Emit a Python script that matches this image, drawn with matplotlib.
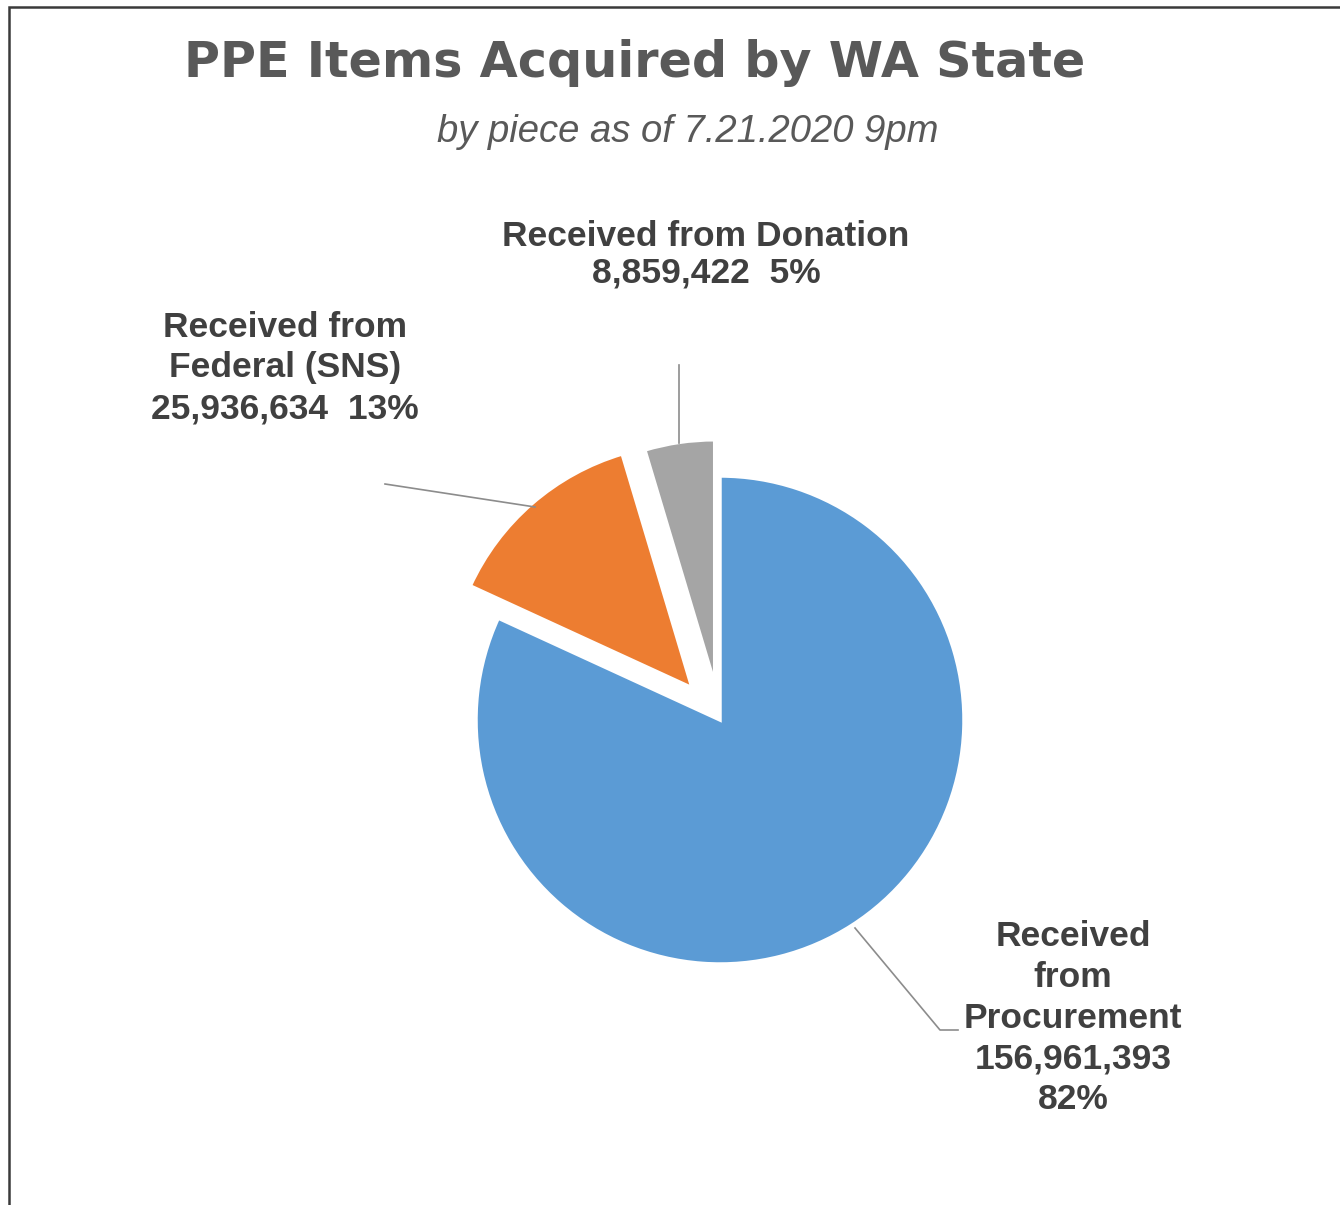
import matplotlib.pyplot as plt
from matplotlib.patches import Rectangle

# data
labels = ['Received\nfrom\nProcurement', 'Received from\nFederal (SNS)', 'Received from Donation']
values = [156961393, 25936634, 8859422]
pct_labels = ['82%', '13%', '5%']   # as printed on the chart
colors = ['#5B9BD5', '#ED7D31', '#A5A5A5']
explode_frac = [0.0, 0.175, 0.15]

W, H = 1340, 1205
fig = plt.figure(figsize=(W / 100, H / 100), dpi=100)
ax = fig.add_axes([0, 0, 1, 1])

R = 244
cx, cy = 720, H - 720
wedges, _ = ax.pie(values, colors=colors, startangle=90, counterclock=False,
                   explode=[f * R for f in explode_frac],
                   center=(cx, cy), radius=R,
                   wedgeprops=dict(edgecolor='white', linewidth=2.5))
ax.set_xlim(0, W)
ax.set_ylim(0, H)
ax.set_aspect('equal')
ax.axis('off')

txt = dict(family='Liberation Sans', weight='bold', color='#404040',
           fontsize=25.5, ha='center', va='center')

# title + subtitle
ax.text(635, H - 63, 'PPE Items Acquired by WA State', family='DejaVu Sans',
        weight='bold', fontsize=35.5, color='#595959', ha='center', va='center')
ax.text(688, H - 132, 'by piece as of 7.21.2020 9pm', family='Liberation Sans',
        style='italic', fontsize=27.5, color='#595959', ha='center', va='center')

# data labels
ax.text(706, H - 255, f'{labels[2]}\n{values[2]:,}  {pct_labels[2]}',
        linespacing=1.15, **txt)
ax.text(285, H - 368, f'{labels[1]}\n{values[1]:,}  {pct_labels[1]}',
        linespacing=1.3, **txt)
ax.text(1073, H - 1018, f'{labels[0]}\n{values[0]:,}\n{pct_labels[0]}',
        linespacing=1.3, **txt)

# leader lines
lc = dict(color='#8C8C8C', lw=1.2)
ax.plot([679, 679], [H - 365, H - 443], **lc)
ax.plot([385, 535], [H - 484, H - 507], **lc)
ax.plot([855, 940, 958], [H - 928, H - 1030, H - 1030], **lc)

# chart frame (only top and left edges inside the picture)
fig.patches.append(Rectangle((9 / W, -0.05), 1.1, 1 - 7 / H + 0.05,
                             transform=fig.transFigure, fill=False,
                             edgecolor='#3A3A3A', lw=1.8))

fig.savefig('out.png', dpi=100)
